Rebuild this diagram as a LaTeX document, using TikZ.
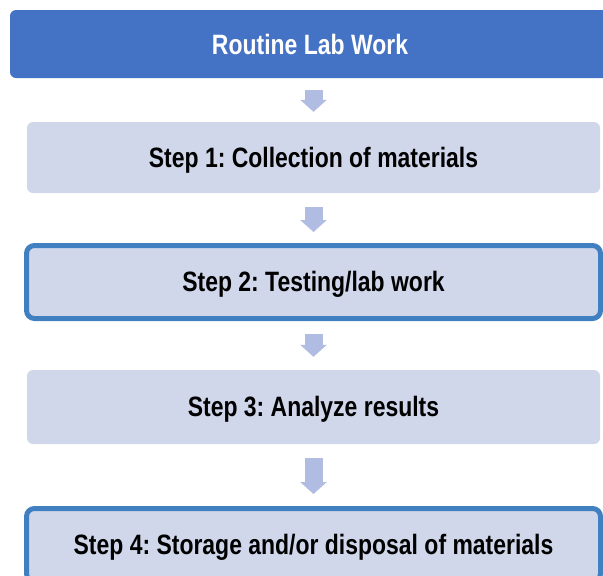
\documentclass[tikz,border=0pt]{standalone}
\usepackage{fontspec}
\usepackage{tikz}
\usetikzlibrary{arrows.meta, positioning}

\newfontfamily\boxfont{Liberation Sans}[FakeStretch=0.82]

\definecolor{headblue}{RGB}{68,114,196}
\definecolor{steplav}{RGB}{208,215,235}
\definecolor{stepedge}{RGB}{65,128,192}
\definecolor{flowarr}{RGB}{176,188,226}

\begin{document}
\begin{tikzpicture}[x=1pt, y=1pt, every node/.style={font=\boxfont\bfseries\frenchspacing\fontsize{28}{32}\selectfont},
    head/.style={rectangle, rounded corners=6pt, fill=headblue, text=white, minimum width=600pt, minimum height=68pt},
    stepbox/.style={rectangle, rounded corners=6pt, fill=steplav, minimum width=573pt, minimum height=71pt,
        text height=20.5pt, text depth=1.5pt},
    hilite/.style={stepbox, draw=stepedge, line width=5pt, rounded corners=8pt, minimum width=574pt, minimum height=73pt},
    flow/.style={flowarr, line width=18pt, -{Triangle[width=26pt, length=12pt]}}]
    \useasboundingbox (0,0) rectangle (603,-576);
    \clip (0,0) rectangle (603,-576);

    \node[head] (top) at (310,-44) {Routine Lab Work};
    \node[stepbox] (s1) at (313.5,-157.5) {Step 1: Collection of materials};
    \node[hilite] (s2) at (313.5,-282) {Step 2: Testing/lab work};
    \node[stepbox, minimum height=74pt] (s3) at (313.5,-407) {Step 3: Analyze results};
    \node[hilite] (s4) at (313.5,-545) {Step 4: Storage and/or disposal of materials};

    % block arrows between the boxes
    \draw[flow, shorten <=12pt, shorten >=10pt] (s1.north |- top.south) -- (s1.north);
    \draw[flow, shorten <=14pt, shorten >=11pt] (s1.south) -- (s2.north);
    \draw[flow, shorten <=13pt, shorten >=13pt] (s2.south) -- (s3.north);
    \draw[flow, shorten <=14pt, shorten >=12pt] (s3.south) -- (s4.north);
\end{tikzpicture}
\end{document}
